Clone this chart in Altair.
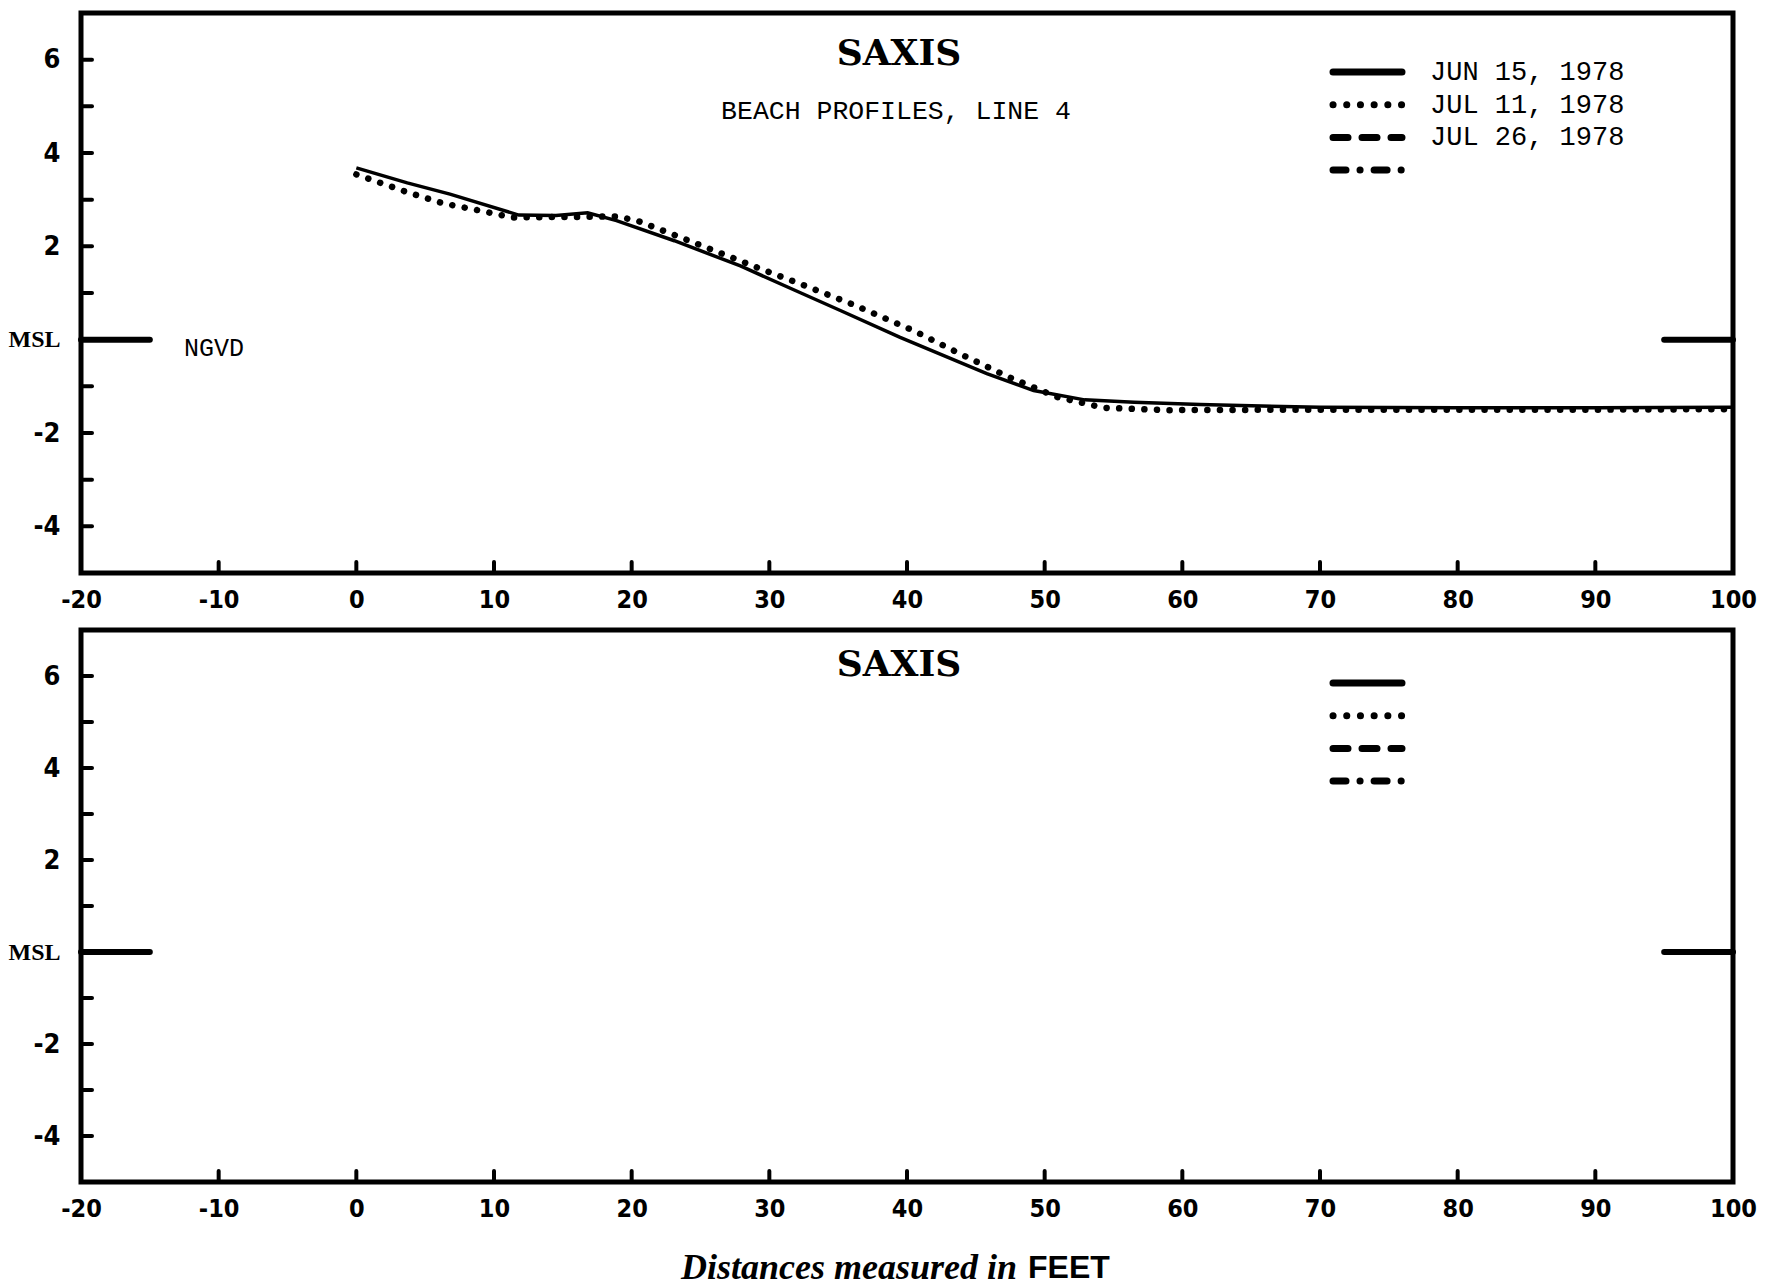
import altair as alt
import pandas as pd

# ---------------- data ----------------
x_label_values = list(range(-20, 101, 10))
y_label_values = [-4, -2, 0, 2, 4, 6]
y_tick_values = [-4, -3, -2, -1, 1, 2, 3, 4, 5, 6]
x_tick_values = list(range(-10, 91, 10))
msl_start = [-20, 95]
msl_end = [-15, 100]
msl_level = [0, 0]

jun15_x = [0, 3.7, 6.8, 11.8, 14.5, 16.8, 18.9, 23.1, 27.9, 32.3, 35.2, 39.5,
           45.8, 49.2, 52.9, 56.5, 61.3, 70, 80, 90, 99.9]
jun15_y = [3.68, 3.36, 3.12, 2.67, 2.66, 2.72, 2.55, 2.12, 1.58, 1.00, 0.62, 0.05,
           -0.73, -1.09, -1.29, -1.34, -1.39, -1.45, -1.46, -1.46, -1.45]

jul11_x = [0, 3.8, 6.3, 8.4, 11.3, 15.8, 18.9, 20.4, 24.0, 29.6, 32.3, 36.1,
           40.5, 43.9, 47.3, 50.9, 54.3, 58.9, 70, 80, 90, 99.9]
jul11_y = [3.54, 3.15, 2.92, 2.80, 2.62, 2.63, 2.64, 2.55, 2.14, 1.49, 1.19, 0.75,
           0.19, -0.31, -0.79, -1.23, -1.46, -1.51, -1.50, -1.50, -1.50, -1.49]

series_names = ["JUN 15, 1978", "JUL 11, 1978", "JUL 26, 1978", "SERIES 4"]
legend_labels_top = ["JUN 15, 1978", "JUL 11, 1978", "JUL 26, 1978", ""]
legend_labels_bottom = ["", "", "", ""]

station = "SAXIS"
subtitle = "BEACH PROFILES, LINE 4"
datum_label = "NGVD"
xtitle_italic = "Distances measured in"
xtitle_unit = "FEET"

# ---------------- styles ----------------
W = 1652
H_TOP = 560
H_BOT = 552
LABEL_FONT = "Liberation Sans Narrow, DejaVu Sans Condensed, Liberation Sans"
MONO = "Liberation Mono, DejaVu Sans Mono"
SERIF = "DejaVu Serif, Liberation Serif"
dash_styles = [[1, 0], [0.1, 13.6], [15, 14], [13, 14, 0.1, 14]]

profiles = pd.concat([
    pd.DataFrame({"dist": jun15_x, "elev": jun15_y, "survey": series_names[0]}),
    pd.DataFrame({"dist": jul11_x, "elev": jul11_y, "survey": series_names[1]}),
])
msl_df = pd.DataFrame({"a": msl_start, "b": msl_end, "lvl": msl_level})
ytick_df = pd.DataFrame({"v": y_tick_values})
xtick_df = pd.DataFrame({"v": x_tick_values})

x_scale = alt.Scale(domain=[-20, 100], nice=False, zero=False)
y_scale = alt.Scale(domain=[-5, 7], nice=False, zero=False)

x_axis = alt.Axis(values=x_label_values, ticks=False, domain=False, grid=False,
                  labelExpr="'' + datum.value",
                  labelFont=LABEL_FONT, labelFontSize=25, labelFontWeight="bold",
                  labelColor="black", labelPadding=14, labelFlush=False, title=None)
y_axis = alt.Axis(values=y_label_values, ticks=False, domain=False, grid=False,
                  labelExpr="datum.value == 0 ? 'MSL' : '' + datum.value",
                  labelFont={"condition": {"test": "datum.value == 0", "value": "Liberation Serif"},
                             "value": LABEL_FONT},
                  labelFontSize={"condition": {"test": "datum.value == 0", "value": 24},
                                 "value": 27},
                  labelFontWeight="bold", labelColor="black", labelPadding=21, title=None)


def panel(height, labels, title_y, legend_y0, with_data):
    msl = alt.Chart(msl_df).mark_rule(color="black", strokeWidth=6, strokeCap="round").encode(
        x=alt.X("a:Q", scale=x_scale, axis=x_axis),
        x2="b:Q",
        y=alt.Y("lvl:Q", scale=y_scale, axis=y_axis),
    )
    yt = alt.Chart(ytick_df).mark_rule(color="black", strokeWidth=4, strokeCap="round").encode(
        y=alt.Y("v:Q", scale=y_scale, axis=y_axis),
        x=alt.value(0), x2=alt.value(11),
    )
    xt = alt.Chart(xtick_df).mark_rule(color="black", strokeWidth=4, strokeCap="round").encode(
        x=alt.X("v:Q", scale=x_scale, axis=x_axis),
        y=alt.value(height), y2=alt.value(height - 11),
    )
    ttl = alt.Chart(pd.DataFrame({"t": [station]})).mark_text(
        font=SERIF, fontSize=36, fontWeight="bold", color="black", baseline="middle", align="center"
    ).encode(text="t:N", x=alt.value(818), y=alt.value(title_y))

    leg_df = pd.DataFrame({"name": series_names, "label": labels, "i": list(range(4))})
    leg_base = alt.Chart(leg_df).transform_calculate(ypos=f"{legend_y0} + datum.i * 32.7")
    leg_lines = leg_base.mark_rule(color="black", strokeWidth=7, strokeCap="round").encode(
        x=alt.value(1252), x2=alt.value(1321),
        y=alt.Y("ypos:Q", scale=None),
        strokeDash=alt.StrokeDash("name:N", scale=alt.Scale(domain=series_names, range=dash_styles),
                                  legend=None),
    )
    layers = [msl, yt, xt, ttl, leg_lines]
    if any(labels):
        leg_text = leg_base.mark_text(font=MONO, fontSize=27, color="black", align="left",
                                      baseline="middle").encode(
            x=alt.value(1349), y=alt.Y("ypos:Q", scale=None), text="label:N")
        layers.append(leg_text)
    if with_data:
        sub = alt.Chart(pd.DataFrame({"t": [subtitle]})).mark_text(
            font=MONO, fontSize=26.5, color="black", baseline="middle", align="center"
        ).encode(text="t:N", x=alt.value(815), y=alt.value(98))
        ngvd = alt.Chart(pd.DataFrame({"t": [datum_label]})).mark_text(
            font=MONO, fontSize=25, color="black", baseline="middle", align="left"
        ).encode(text="t:N", x=alt.value(103), y=alt.value(335))
        solid = alt.Chart(profiles).transform_filter(
            alt.datum.survey == series_names[0]
        ).mark_line(color="black", strokeWidth=3.5, interpolate="linear").encode(
            x=alt.X("dist:Q", scale=x_scale, axis=x_axis),
            y=alt.Y("elev:Q", scale=y_scale, axis=y_axis),
            order="dist:Q",
        )
        dotted = alt.Chart(profiles).transform_filter(
            alt.datum.survey == series_names[1]
        ).mark_line(color="black", strokeWidth=6.5, strokeCap="round", strokeDash=[0.1, 12.5]).encode(
            x=alt.X("dist:Q", scale=x_scale, axis=x_axis),
            y=alt.Y("elev:Q", scale=y_scale, axis=y_axis),
            order="dist:Q",
        )
        layers = [solid, dotted] + layers + [sub, ngvd]
    else:
        xt1 = alt.Chart(pd.DataFrame({"t": [xtitle_italic]})).mark_text(
            font="Liberation Serif", fontStyle="italic", fontWeight="bold", fontSize=36,
            color="black", align="right", baseline="middle"
        ).encode(text="t:N", x=alt.value(936), y=alt.value(height + 86))
        xt2 = alt.Chart(pd.DataFrame({"t": [xtitle_unit]})).mark_text(
            font="Liberation Sans", fontWeight="bold", fontSize=32,
            color="black", align="left", baseline="middle"
        ).encode(text="t:N", x=alt.value(947), y=alt.value(height + 86))
        layers = layers + [xt1, xt2]
    return alt.layer(*layers).properties(width=W, height=height)


top = panel(H_TOP, legend_labels_top, 41, 59, True)
bottom = panel(H_BOT, legend_labels_bottom, 35, 53, False)

chart = alt.vconcat(top, bottom, spacing=57, bounds="flush").properties(
    padding={"left": 5, "top": 10, "right": 10, "bottom": 5},
    background="white",
).configure_view(stroke="black", strokeWidth=5)

chart.save("out.html", embed_options={"renderer": "svg", "actions": False})
